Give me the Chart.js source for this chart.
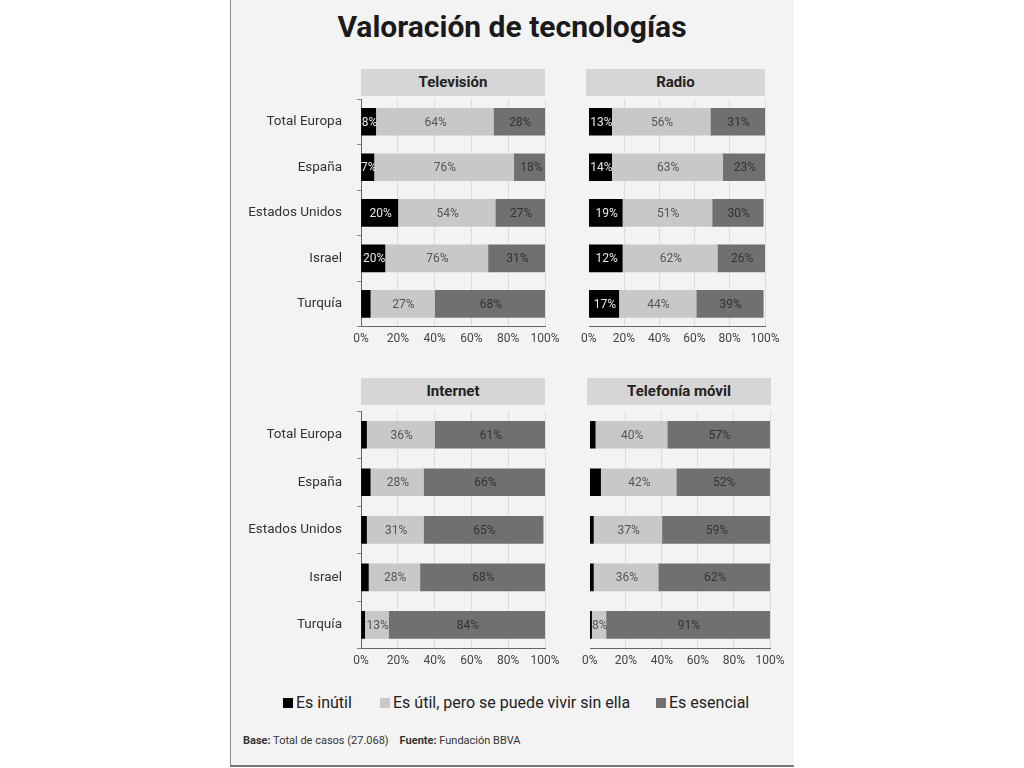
<!DOCTYPE html>
<html>
<head>
<meta charset="utf-8">
<script src="https://cdn.jsdelivr.net/npm/chart.js@4.4.0/dist/chart.umd.min.js"></script>
<style>
  body { margin: 0; background: #fff; font-family: Roboto, "Noto Sans", sans-serif; }
  #page { position: absolute; left: 230px; top: 0; width: 563px; height: 765px; background: #f3f3f3;
          border-left: 1px solid #8a8a8a; border-bottom: 2px solid #777; }
  #title { position: absolute; left: 230px; width: 564px; top: 9px; text-align: center;
           font-size: 30px; font-weight: bold; color: #1a1a1a; }
  .head { position: absolute; height: 27px; line-height: 27px; background: #d6d6d6; text-align: center;
          font-size: 15px; font-weight: bold; color: #222; }
  .box { position: absolute; }
  #legend { position: absolute; top: 693px; left: 230px; width: 564px; font-size: 16px; color: #222; }
  #legend span { position: absolute; white-space: nowrap; }
  #legend i { display: inline-block; width: 10px; height: 10px; margin-right: 3px; }
  #foot { position: absolute; left: 243px; top: 734px; font-size: 11px; color: #333; }
</style>
</head>
<body>
<div id="page"></div>
<div id="title">Valoración de tecnologías</div>

<div class="head" style="left:361px;top:69px;width:184px">Televisión</div>
<div class="head" style="left:586px;top:69px;width:179px">Radio</div>
<div class="head" style="left:361px;top:378px;width:184px">Internet</div>
<div class="head" style="left:587px;top:378px;width:184px">Telefonía móvil</div>

<div class="box" style="left:236px;top:99px;width:329px;height:252px"><canvas id="tv"></canvas></div>
<div class="box" style="left:576px;top:99px;width:209px;height:252px"><canvas id="radio"></canvas></div>
<div class="box" style="left:236px;top:411px;width:329px;height:262px"><canvas id="net"></canvas></div>
<div class="box" style="left:577px;top:411px;width:213px;height:262px"><canvas id="movil"></canvas></div>

<div id="legend">
  <span style="left:53px"><i style="background:#000"></i>Es inútil</span>
  <span style="left:150px"><i style="background:#c8c8c8"></i>Es útil, pero se puede vivir sin ella</span>
  <span style="left:426px"><i style="background:#707070"></i>Es esencial</span>
</div>
<div id="foot"><b>Base:</b> Total de casos (27.068) &nbsp;&nbsp;&nbsp;<b>Fuente:</b> Fundación BBVA</div>

<script>
var paises = ['Total Europa', 'España', 'Estados Unidos', 'Israel', 'Turquía'];
var ticksX = ['0%', '20%', '40%', '60%', '80%', '100%'];
var series = ['Es inútil', 'Es útil, pero se puede vivir sin ella', 'Es esencial'];
var colores = ['#000000', '#c8c8c8', '#707070'];
var colorTexto = ['#e8e8e8', '#555555', '#333333'];

// bar lengths
var tvInutil = [8, 7, 20, 13, 5];
var tvUtil = [64, 76, 53, 56, 35];
var tvEsencial = [28, 18, 27, 31, 60];
var radioInutil = [13, 13, 19, 19, 17];
var radioUtil = [56, 63, 51, 54, 44];
var radioEsencial = [31, 24, 29, 27, 38];
var netInutil = [3, 5, 3, 4, 2];
var netUtil = [37, 29, 31, 28, 13];
var netEsencial = [60, 66, 65, 68, 85];
var movilInutil = [3, 6, 2, 2, 1];
var movilUtil = [40, 42, 38, 36, 8];
var movilEsencial = [57, 52, 60, 62, 91];

// labels as printed on the bars
var tvEtiquetas = [['8%', '7%', '20%', '20%', ''], ['64%', '76%', '54%', '76%', '27%'], ['28%', '18%', '27%', '31%', '68%']];
var radioEtiquetas = [['13%', '14%', '19%', '12%', '17%'], ['56%', '63%', '51%', '62%', '44%'], ['31%', '23%', '30%', '26%', '39%']];
var netEtiquetas = [['', '', '', '', ''], ['36%', '28%', '31%', '28%', '13%'], ['61%', '66%', '65%', '68%', '84%']];
var movilEtiquetas = [['', '', '', '', ''], ['40%', '42%', '37%', '36%', '8%'], ['57%', '52%', '59%', '62%', '91%']];

var etiquetasBarras = {
  id: 'etiquetasBarras',
  afterDatasetsDraw: function(chart) {
    var ctx = chart.ctx;
    var textos = chart.options.plugins.etiquetasBarras.textos;
    ctx.save();
    ctx.font = '12px Roboto, "Noto Sans", sans-serif';
    ctx.textAlign = 'center';
    ctx.textBaseline = 'middle';
    chart.data.datasets.forEach(function(ds, i) {
      chart.getDatasetMeta(i).data.forEach(function(bar, j) {
        var t = textos[i][j];
        if (!t) return;
        ctx.fillStyle = colorTexto[i];
        ctx.fillText(t, (bar.x + bar.base) / 2 + 1, bar.y + 1);
      });
    });
    ctx.restore();
  }
};

function panel(id, valores, textos, conNombres) {
  new Chart(document.getElementById(id), {
    type: 'bar',
    data: {
      labels: paises,
      datasets: valores.map(function(v, i) {
        return { label: series[i], data: v, backgroundColor: colores[i], barThickness: 27 };
      })
    },
    options: {
      indexAxis: 'y',
      responsive: true,
      maintainAspectRatio: false,
      animation: false,
      layout: { padding: { right: 20, top: 0 } },
      plugins: {
        legend: { display: false },
        tooltip: { enabled: false },
        etiquetasBarras: { textos: textos }
      },
      scales: {
        x: {
          stacked: true, min: 0, max: 100,
          border: { color: '#666', width: 1 },
          grid: { color: '#dcdcdc', drawTicks: false },
          ticks: {
            stepSize: 20, padding: 5, color: '#444',
            font: { size: 12, family: 'Roboto, "Noto Sans", sans-serif' },
            callback: function(v) { return ticksX[v / 20]; }
          }
        },
        y: {
          stacked: true,
          afterFit: function(s) {
            s.width = conNombres ? 125 : 10;
            s.paddingTop = 0;
            s.paddingBottom = 0;
          },
          border: { color: conNombres ? '#666' : '#f3f3f3', width: 1 },
          grid: { drawOnChartArea: false, tickLength: conNombres ? 4 : 0, color: '#888' },
          ticks: {
            display: conNombres, padding: 15, color: '#333',
            font: { size: 13.5, family: 'Roboto, "Noto Sans", sans-serif' }
          }
        }
      }
    },
    plugins: [etiquetasBarras]
  });
}

panel('tv', [tvInutil, tvUtil, tvEsencial], tvEtiquetas, true);
panel('radio', [radioInutil, radioUtil, radioEsencial], radioEtiquetas, false);
panel('net', [netInutil, netUtil, netEsencial], netEtiquetas, true);
panel('movil', [movilInutil, movilUtil, movilEsencial], movilEtiquetas, false);
</script>
</body>
</html>
